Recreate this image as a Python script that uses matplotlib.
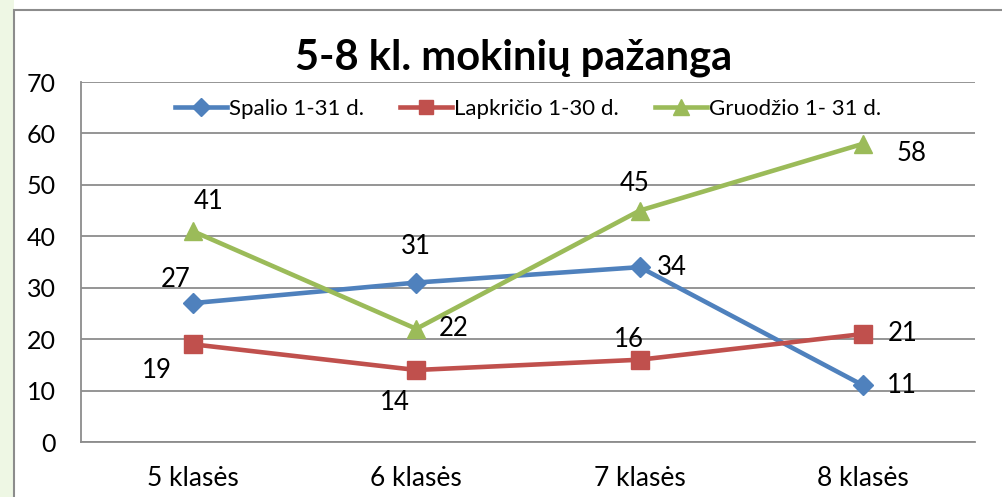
import matplotlib
matplotlib.use("Agg")
import matplotlib.pyplot as plt
from matplotlib.patches import Rectangle

categories = ["5 klasės", "6 klasės", "7 klasės", "8 klasės"]
spalio = [27, 31, 34, 11]
lapkricio = [19, 14, 16, 21]
gruodzio = [41, 22, 45, 58]
series_names = ["Spalio 1-31 d.", "Lapkričio 1-30 d.", "Gruodžio 1- 31 d."]
title = "5-8 kl. mokinių pažanga"

plt.rcParams['font.family'] = ['Lato', 'DejaVu Sans']

fig = plt.figure(figsize=(10.02, 4.97), dpi=100)
fig.patch.set_facecolor('white')

# light green strip at the left edge and chart frame
fig.patches.append(Rectangle((0, 0), 14/1002, 1, transform=fig.transFigure,
                             facecolor='#eef7e4', edgecolor='none', zorder=0))
fig.patches.append(Rectangle((14/1002, -0.01), 1.0, 1 - 10/497 + 0.01, transform=fig.transFigure,
                             facecolor='white', edgecolor='#8c8c8c', linewidth=1.5, zorder=1))

ax = fig.add_axes([81/1002, 1 - 442/497, (975 - 81)/1002, (442 - 82)/497])
ax.set_zorder(2)
ax.set_facecolor('none')

x = [i + 0.5 for i in range(len(categories))]
colors = ['#4F81BD', '#C0504D', '#9BBB59']
markers = ['D', 's', '^']
msizes = [10.5, 12.5, 13.5]
all_series = [spalio, lapkricio, gruodzio]
for vals, c, m, ms, name in zip(all_series, colors, markers, msizes, series_names):
    ax.plot(x, vals, color=c, linewidth=3.3, marker=m, markersize=ms, label=name,
            markeredgecolor=c, zorder=3)

# data labels (offsets in pixels)
offsets = [
    [(-17, 24), (0, 36), (32, 0), (39, 0)],
    [(-36, -26), (-21, -33), (-11, 20), (39, 1)],
    [(16, 30), (37, 0), (-5, 27), (48, -10)],
]
for vals, offs in zip(all_series, offsets):
    for xi, v, (dx, dy) in zip(x, vals, offs):
        ax.annotate(str(v), (xi, v), xytext=(dx, dy), textcoords='offset pixels',
                    ha='center', va='center', fontsize=18.5, color='black', zorder=4)

ax.set_xlim(0, 4)
ax.set_ylim(0, 70)
ax.set_yticks(range(0, 71, 10))
ax.set_xticks(x)
ax.set_xticklabels(categories, fontsize=19)
ax.tick_params(axis='y', labelsize=18, length=0, pad=18)
ax.tick_params(axis='x', length=0, pad=17)
ax.grid(axis='y', color='#8c8c8c', linewidth=1.3)
for s in ['top', 'right']:
    ax.spines[s].set_visible(False)
for s in ['left', 'bottom']:
    ax.spines[s].set_color('#8c8c8c')
    ax.spines[s].set_linewidth(1.3)
ax.set_axisbelow(True)

fig.text(0.513, 1 - 58/497, title, ha='center', va='center', fontsize=30,
         fontweight='bold', zorder=5)

leg = ax.legend(loc='center', bbox_to_anchor=(0.5, 1 - (109 - 82)/360), ncol=3,
                frameon=False, fontsize=16, handlelength=2.35, columnspacing=1.6,
                handletextpad=0.1, borderaxespad=0, markerscale=0.85)

fig.savefig("out.png", dpi=100)
